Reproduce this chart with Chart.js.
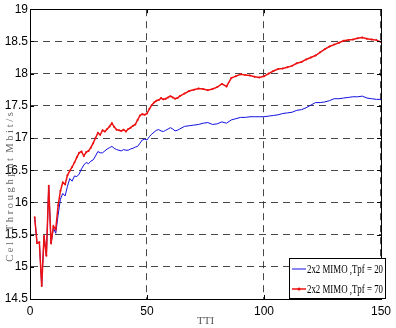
<!DOCTYPE html>
<html><head><meta charset="utf-8">
<script src="https://cdn.jsdelivr.net/npm/chart.js@4/dist/chart.umd.min.js"></script>
<style>html,body{margin:0;padding:0;background:#fff}#wrap{width:396px;height:328px;position:relative}</style>
</head><body><div id="wrap"><canvas id="c" width="396" height="328"></canvas></div>
<script>
const tti = [2,3,4,5,6,7,8,9,10,11,12,13,14,15,16,17,18,19,20,21,22,23,24,25,26,27,28,29,30,31,32,33,34,35,36,37,38,39,40,41,42,43,44,45,46,47,48,49,50,51,52,53,54,55,56,57,58,59,60,61,62,63,64,
  66,68,70,72,74,76,78,80,82,84,86,88,90,92,94,96,98,100,102,104,106,108,110,112,114,116,118,120,122,124,126,128,130,132,134,136,138,140,142,144,146,148,150];
const mimoTpf20 = [15.77,15.37,15.38,14.70,15.48,15.17,16.26,15.36,15.60,15.52,15.80,16.05,16.14,16.10,16.25,16.37,16.33,16.41,16.40,16.44,16.52,16.58,16.62,16.60,16.64,16.66,16.72,16.79,16.77,16.77,16.80,16.83,16.85,16.87,16.84,16.82,16.81,16.80,16.82,16.81,16.81,16.83,16.84,16.86,16.87,16.92,16.97,16.98,16.97,17.02,17.06,17.09,17.12,17.13,17.11,17.10,17.12,17.14,17.16,17.14,17.11,17.12,17.14,
  17.18,17.19,17.20,17.21,17.23,17.24,17.21,17.22,17.25,17.23,17.28,17.30,17.32,17.32,17.33,17.33,17.33,17.33,17.34,17.35,17.36,17.38,17.39,17.40,17.43,17.44,17.47,17.51,17.55,17.55,17.56,17.58,17.61,17.61,17.62,17.63,17.64,17.64,17.65,17.62,17.61,17.60,17.60];
const mimoTpf70 = [15.77,15.37,15.38,14.70,15.48,15.17,16.26,15.36,15.63,15.58,15.95,16.18,16.31,16.28,16.42,16.49,16.55,16.62,16.70,16.77,16.79,16.72,16.78,16.80,16.85,16.92,17.00,17.08,17.05,17.12,17.10,17.14,17.18,17.23,17.17,17.13,17.12,17.11,17.13,17.10,17.14,17.16,17.19,17.21,17.28,17.35,17.37,17.36,17.38,17.45,17.51,17.55,17.58,17.59,17.62,17.60,17.61,17.63,17.65,17.63,17.61,17.62,17.65,
  17.69,17.73,17.75,17.77,17.76,17.74,17.76,17.79,17.84,17.80,17.93,17.96,17.99,17.98,17.97,17.95,17.94,17.96,18.00,18.04,18.07,18.08,18.10,18.12,18.16,18.18,18.22,18.25,18.28,18.33,18.38,18.42,18.45,18.48,18.51,18.52,18.53,18.55,18.56,18.54,18.53,18.52,18.49];
const seriesLabels = ['2x2 MIMO ,Tpf = 20', '2x2 MIMO ,Tpf = 70'];
const xTicks = [0, 50, 100, 150];
const yTicks = [14.5, 15, 15.5, 16, 16.5, 17, 17.5, 18, 18.5, 19];
const xTitle = 'TTI';
const yTitle = 'C e l l  T h r o u g h p u t  M b i t / s';

const sans = "'Liberation Sans', Arial, sans-serif";
const serif = "'Liberation Serif', 'DejaVu Serif', serif";

const toPts = arr => tti.map((t, i) => ({x: t, y: arr[i]}));

const framePlugin = {
  id: 'frame',
  afterDraw(chart) {
    const ctx = chart.ctx, a = chart.chartArea;
    const xs = chart.scales.x, ys = chart.scales.y;
    ctx.save();
    ctx.strokeStyle = '#000';
    ctx.lineWidth = 1;
    ctx.setLineDash([]);
    ctx.strokeRect(Math.round(a.left) + 0.5, Math.round(a.top) + 0.5, Math.round(a.right - a.left), Math.round(a.bottom - a.top));
    ctx.beginPath();
    yTicks.forEach(v => {
      const y = Math.round(ys.getPixelForValue(v)) + 0.5;
      ctx.moveTo(a.left, y); ctx.lineTo(a.left + 4, y);
      ctx.moveTo(a.right, y); ctx.lineTo(a.right - 4, y);
    });
    xTicks.forEach(v => {
      const x = Math.round(xs.getPixelForValue(v)) + 0.5;
      ctx.moveTo(x, a.bottom); ctx.lineTo(x, a.bottom - 4);
      ctx.moveTo(x, a.top); ctx.lineTo(x, a.top + 4);
    });
    ctx.stroke();
    ctx.fillStyle = '#666';
    ctx.font = '10.5px ' + serif;
    ctx.textAlign = 'center';
    ctx.textBaseline = 'middle';
    ctx.translate(10, 187);
    ctx.rotate(-Math.PI / 2);
    ctx.fillText(yTitle, 0, 0);
    ctx.restore();

    ctx.save();
    const bx = 289, by = 258, bw = 96, bh = 40;
    ctx.fillStyle = '#fff';
    ctx.fillRect(bx, by, bw, bh);
    ctx.strokeStyle = '#000';
    ctx.lineWidth = 1;
    ctx.strokeRect(bx + 0.5, by + 0.5, bw, bh);
    ctx.font = '12px ' + serif;
    ctx.textBaseline = 'middle';
    ctx.textAlign = 'left';
    chart.data.datasets.forEach((ds, i) => {
      const y = by + 11 + i * 20;
      ctx.strokeStyle = ds.borderColor;
      ctx.lineWidth = ds.borderWidth;
      ctx.beginPath(); ctx.moveTo(bx + 3, y); ctx.lineTo(bx + 17, y); ctx.stroke();
      if (ds.pointRadius > 0) {
        ctx.fillStyle = ds.borderColor;
        ctx.beginPath(); ctx.arc(bx + 10, y, 1.6, 0, Math.PI * 2); ctx.fill();
      }
      ctx.fillStyle = '#000';
      ctx.fillText(ds.label, bx + 18, y + 1, 76);
    });
    ctx.restore();
  }
};

new Chart(document.getElementById('c'), {
  type: 'line',
  data: {
    datasets: [
      {label: seriesLabels[0], data: toPts(mimoTpf20), borderColor: '#1010e0', borderWidth: 1, pointRadius: 0, order: 1, tension: 0},
      {label: seriesLabels[1], data: toPts(mimoTpf70), borderColor: '#ee1111', borderWidth: 1.5, pointRadius: 1, pointBackgroundColor: '#ee1111', pointBorderWidth: 0, order: 0, tension: 0}
    ]
  },
  options: {
    responsive: false,
    animation: false,
    layout: {padding: {left: 0, right: 10, top: 6, bottom: 0}},
    plugins: {legend: {display: false}, tooltip: {enabled: false}},
    scales: {
      x: {
        type: 'linear', min: 0, max: 150,
        afterBuildTicks: s => { s.ticks = xTicks.map(v => ({value: v})); },
        afterFit: s => { s.height = 29; },
        grid: {color: 'rgba(40,40,40,0.85)', lineWidth: 1, drawTicks: false},
        border: {display: true, color: '#000', width: 1, dash: [7, 5]},
        ticks: {padding: 5, color: '#000', font: {family: sans, size: 12}, maxRotation: 0, callback: v => String(v)},
        title: {display: true, text: xTitle, color: '#555', font: {family: serif, size: 11}, padding: 0}
      },
      y: {
        type: 'linear', min: 14.5, max: 19,
        afterBuildTicks: s => { s.ticks = yTicks.map(v => ({value: v})); },
        afterFit: s => { s.width = 30; },
        grid: {color: 'rgba(40,40,40,0.85)', lineWidth: 1, drawTicks: false},
        border: {display: true, color: '#000', width: 1, dash: [7, 5]},
        ticks: {padding: 2, color: '#000', font: {family: sans, size: 12}, callback: v => String(v)}
      }
    }
  },
  plugins: [framePlugin]
});
</script>
</body></html>
